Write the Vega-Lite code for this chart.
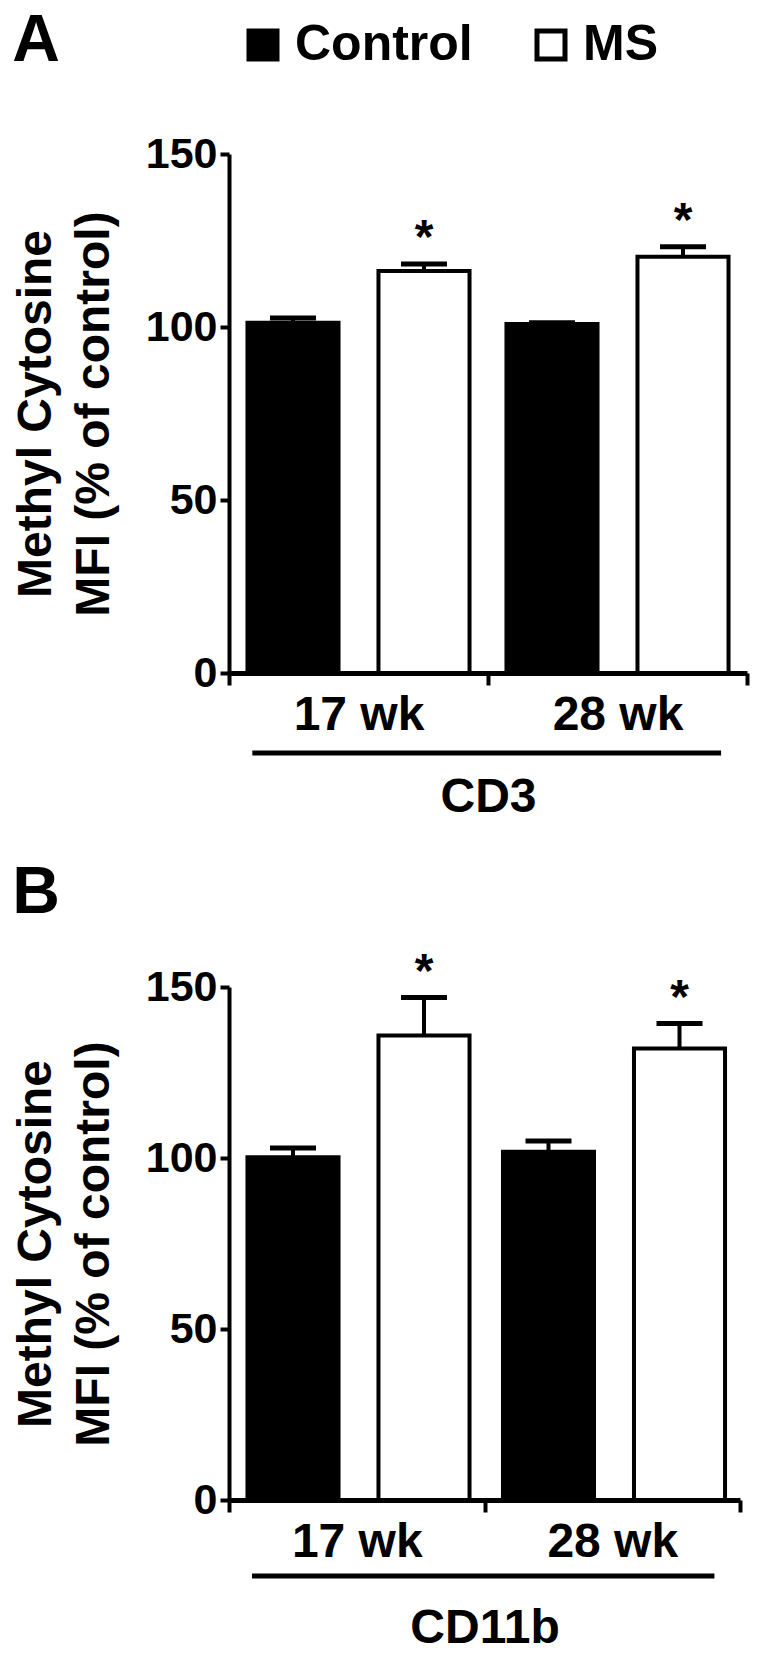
{
  "$schema": "https://vega.github.io/schema/vega-lite/v6.json",
  "background": "white",
  "padding": {"left": 12, "top": 8, "right": 5, "bottom": 2},
  "config": {
    "font": "Liberation Sans",
    "view": {"stroke": null},
    "axis": {
      "labelFont": "Liberation Sans",
      "titleFont": "Liberation Sans",
      "labelFontWeight": "bold",
      "titleFontWeight": "bold",
      "labelColor": "black",
      "titleColor": "black",
      "domainColor": "black",
      "tickColor": "black",
      "grid": false
    },
    "title": {"font": "Liberation Sans", "fontWeight": "bold", "color": "black"}
  },
  "datasets": {
    "cd3": [
      {"age": "17 wk", "group": "Control", "mean": 101.2, "upper": 102.6, "sig": ""},
      {"age": "17 wk", "group": "MS", "mean": 116.2, "upper": 118.2, "sig": "*"},
      {"age": "28 wk", "group": "Control", "mean": 100.9, "upper": 101.2, "sig": ""},
      {"age": "28 wk", "group": "MS", "mean": 120.3, "upper": 123.2, "sig": "*"}
    ],
    "cd11b": [
      {"age": "17 wk", "group": "Control", "mean": 100.2, "upper": 102.9, "sig": ""},
      {"age": "17 wk", "group": "MS", "mean": 135.8, "upper": 146.9, "sig": "*"},
      {"age": "28 wk", "group": "Control", "mean": 101.8, "upper": 105.0, "sig": ""},
      {"age": "28 wk", "group": "MS", "mean": 132.0, "upper": 139.3, "sig": "*"}
    ]
  },
  "spacing": 38,
  "resolve": {"legend": {"fill": "independent"}},
  "vconcat": [
    {
      "title": {"text": "A", "anchor": "start", "frame": "bounds", "fontSize": 66, "baseline": "alphabetic", "offset": -107},
      "width": 518,
      "height": 519,
      "data": {"name": "cd3"},
      "resolve": {"scale": {"x": "independent"}},
      "layer": [
        {
          "encoding": {
            "x": {
              "field": "age", "type": "nominal", "sort": ["17 wk", "28 wk"],
              "scale": {"paddingInner": 0, "paddingOuter": 0},
              "axis": {"title": "CD3", "tickBand": "extent", "domainWidth": 5, "tickWidth": 4, "tickSize": 12, "labelFontSize": 48, "labelPadding": 6, "labelAngle": 0, "titleFontSize": 48, "titlePadding": 34}
            },
            "xOffset": {"field": "group", "type": "nominal", "sort": ["Control", "MS"], "scale": {"paddingInner": 0.305, "paddingOuter": 0.141}}
          },
          "layer": [
            {
              "mark": {"type": "bar", "stroke": "black", "strokeWidth": 4},
              "encoding": {
                "y": {"field": "mean", "type": "quantitative", "scale": {"domain": [0, 150], "nice": false},
                  "axis": {"values": [0, 50, 100, 150], "domainWidth": 4, "tickWidth": 4, "tickSize": 9, "labelFontSize": 43, "labelPadding": 3,
                    "title": ["Methyl Cytosine", "MFI (% of control)"], "titleFontSize": 48, "titleLineHeight": 58, "titlePadding": 27}},
                "fill": {"field": "group", "type": "nominal", "scale": {"domain": ["Control", "MS"], "range": ["black", "white"]},
                  "legend": {"orient": "none", "legendX": 9, "legendY": -134, "direction": "horizontal", "title": null, "symbolType": "square", "symbolSize": 784, "symbolStrokeColor": "black", "symbolStrokeWidth": 5, "symbolOpacity": 1, "labelFontSize": 50, "labelFontWeight": "bold", "labelFont": "Liberation Sans", "labelColor": "black", "labelOffset": 7, "labelLimit": 400, "columnPadding": 53}}
              }
            },
            {
              "mark": {"type": "rule", "strokeWidth": 4, "color": "black"},
              "encoding": {"y": {"field": "mean", "type": "quantitative"}, "y2": {"field": "upper"}}
            },
            {
              "mark": {"type": "tick", "size": 46, "thickness": 5, "color": "black", "opacity": 1},
              "encoding": {"y": {"field": "upper", "type": "quantitative"}}
            },
            {
              "mark": {"type": "text", "fontSize": 48, "fontWeight": "bold", "baseline": "alphabetic", "dy": -11, "color": "black"},
              "encoding": {"y": {"field": "upper", "type": "quantitative"}, "text": {"field": "sig"}}
            }
          ]
        },
        {
          "data": {"values": [{}]},
          "mark": {"type": "rule", "strokeWidth": 5, "color": "black"},
          "encoding": {
            "x": {"datum": 0.09, "type": "quantitative", "scale": {"domain": [0, 2]}, "axis": null},
            "x2": {"datum": 1.9},
            "y": {"datum": -23.1, "type": "quantitative"}
          }
        }
      ]
    },
    {
      "title": {"text": "B", "anchor": "start", "frame": "bounds", "fontSize": 66, "baseline": "alphabetic", "offset": -30},
      "width": 511,
      "height": 513,
      "data": {"name": "cd11b"},
      "resolve": {"scale": {"x": "independent"}},
      "layer": [
        {
          "encoding": {
            "x": {
              "field": "age", "type": "nominal", "sort": ["17 wk", "28 wk"],
              "scale": {"paddingInner": 0, "paddingOuter": 0},
              "axis": {"title": "CD11b", "tickBand": "extent", "domainWidth": 5, "tickWidth": 4, "tickSize": 12, "labelFontSize": 48, "labelPadding": 6, "labelAngle": 0, "titleFontSize": 48, "titlePadding": 38}
            },
            "xOffset": {"field": "group", "type": "nominal", "sort": ["Control", "MS"], "scale": {"paddingInner": 0.305, "paddingOuter": 0.141}}
          },
          "layer": [
            {
              "mark": {"type": "bar", "stroke": "black", "strokeWidth": 4},
              "encoding": {
                "y": {"field": "mean", "type": "quantitative", "scale": {"domain": [0, 150], "nice": false},
                  "axis": {"values": [0, 50, 100, 150], "domainWidth": 4, "tickWidth": 4, "tickSize": 9, "labelFontSize": 43, "labelPadding": 3,
                    "title": ["Methyl Cytosine", "MFI (% of control)"], "titleFontSize": 48, "titleLineHeight": 58, "titlePadding": 27}},
                "fill": {"field": "group", "type": "nominal", "scale": {"domain": ["Control", "MS"], "range": ["black", "white"]}, "legend": null}
              }
            },
            {
              "mark": {"type": "rule", "strokeWidth": 4, "color": "black"},
              "encoding": {"y": {"field": "mean", "type": "quantitative"}, "y2": {"field": "upper"}}
            },
            {
              "mark": {"type": "tick", "size": 46, "thickness": 5, "color": "black", "opacity": 1},
              "encoding": {"y": {"field": "upper", "type": "quantitative"}}
            },
            {
              "mark": {"type": "text", "fontSize": 48, "fontWeight": "bold", "baseline": "alphabetic", "dy": -11, "color": "black"},
              "encoding": {"y": {"field": "upper", "type": "quantitative"}, "text": {"field": "sig"}}
            }
          ]
        },
        {
          "data": {"values": [{}]},
          "mark": {"type": "rule", "strokeWidth": 5, "color": "black"},
          "encoding": {
            "x": {"datum": 0.09, "type": "quantitative", "scale": {"domain": [0, 2]}, "axis": null},
            "x2": {"datum": 1.9},
            "y": {"datum": -22.2, "type": "quantitative"}
          }
        }
      ]
    }
  ]
}
